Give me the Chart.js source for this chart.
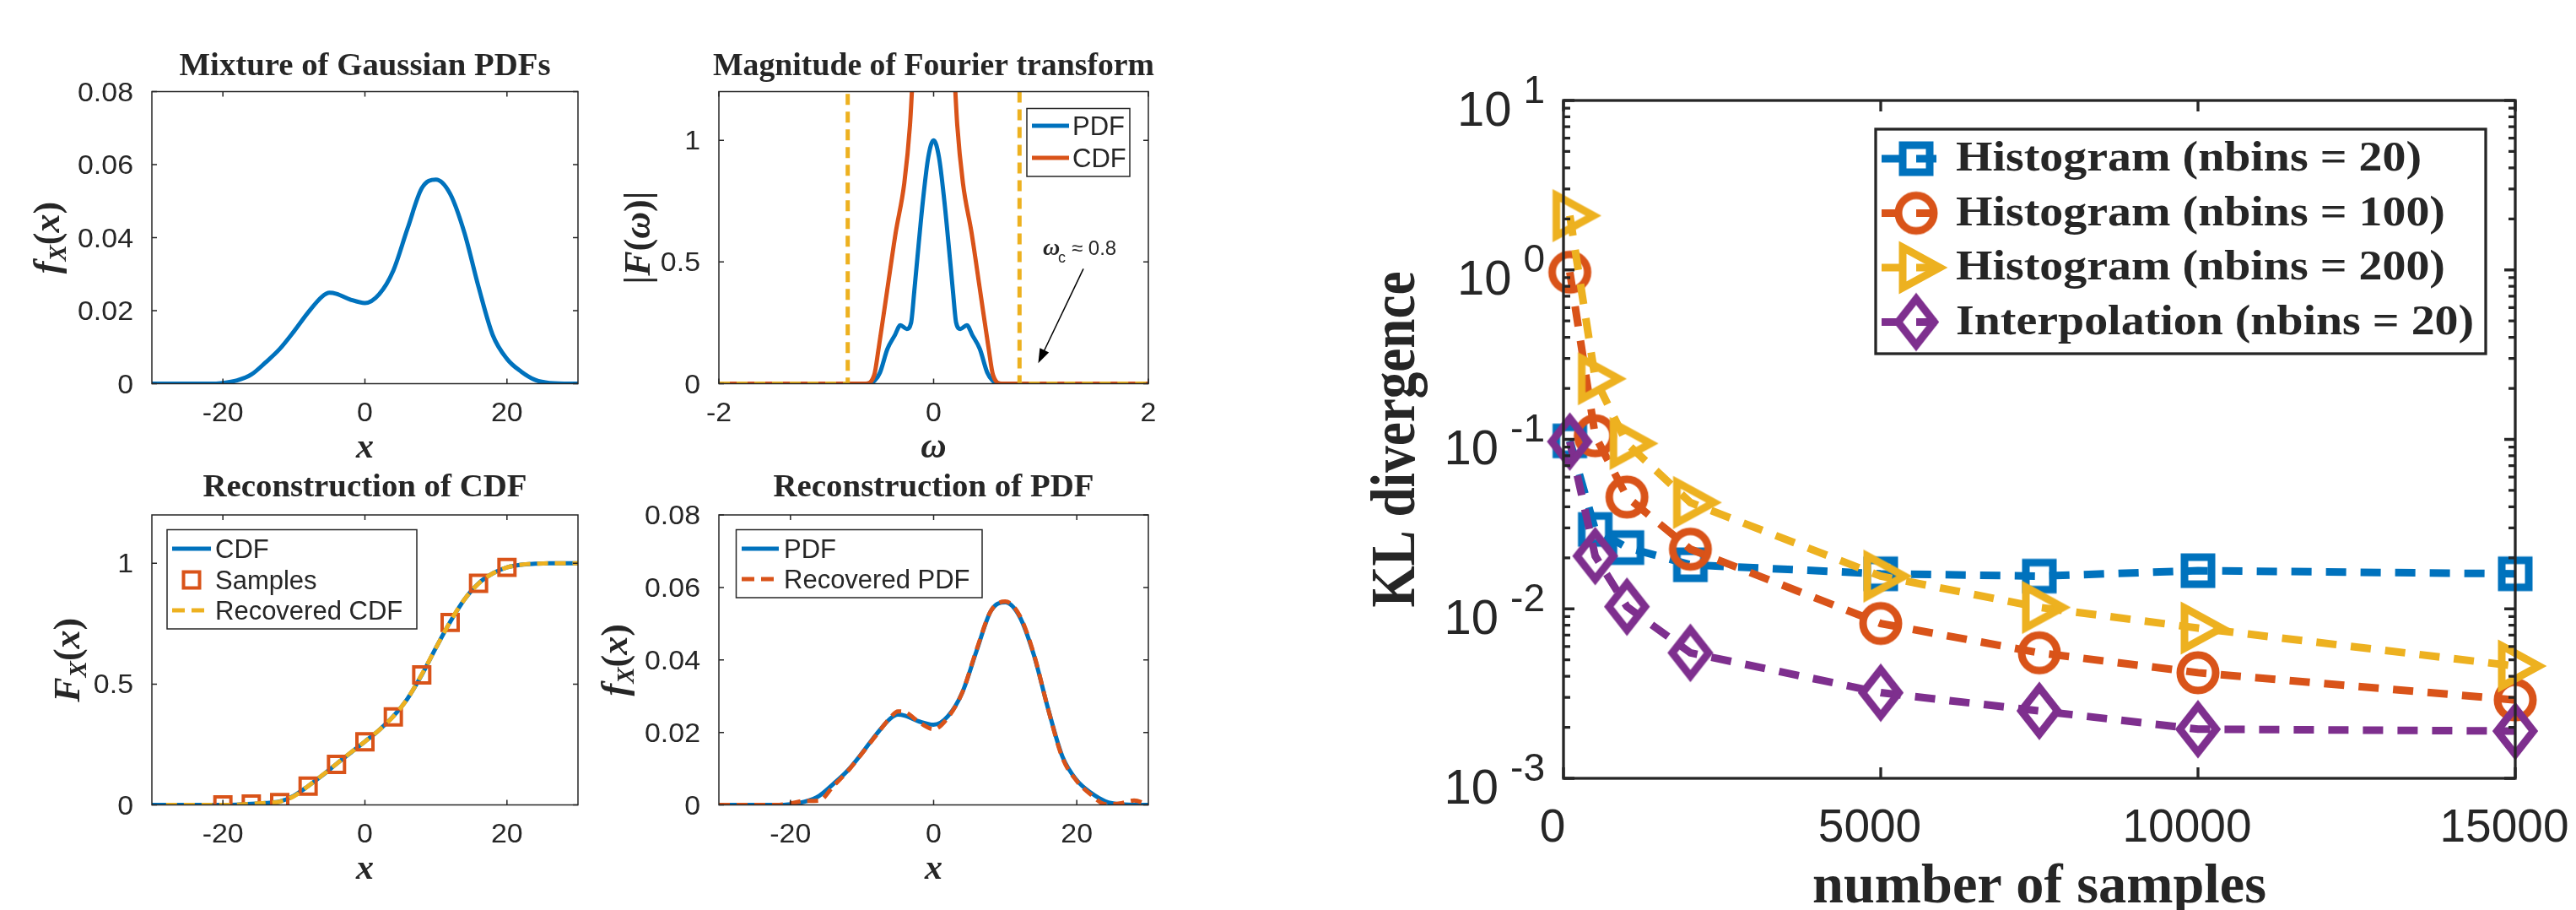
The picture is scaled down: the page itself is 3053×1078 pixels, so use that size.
<!DOCTYPE html>
<html>
<head>
<meta charset="utf-8">
<title>Gaussian mixture reconstruction and KL divergence</title>
<script src="https://cdn.jsdelivr.net/npm/chart.js@4.4.1/dist/chart.umd.min.js"></script>
<style>
  html, body { margin: 0; padding: 0; background: #fff; }
  #page { position: relative; width: 3053px; height: 1078px; overflow: hidden; background: #fff; }
  #page canvas { position: absolute; left: 0; top: 0; }
</style>
</head>
<body>
<div id="page">
  <canvas id="mixture" width="3053" height="1078"></canvas>
  <canvas id="fourier" width="3053" height="1078"></canvas>
  <canvas id="cdfRec" width="3053" height="1078"></canvas>
  <canvas id="pdfRec" width="3053" height="1078"></canvas>
  <canvas id="kl" width="3053" height="1078"></canvas>
</div>
<script>
// values
const pdfX = [-30, -26, -22, -20, -18, -16, -14, -12, -10, -8, -6, -5, -4, -2, 0, 2, 4, 6, 8, 10, 12, 14, 16, 18, 20, 22, 24, 26, 30];
const pdfY = [0, 0, 0, 0.0002, 0.0009, 0.0025, 0.0058, 0.0095, 0.0143, 0.0195, 0.0239, 0.0249, 0.0246, 0.023, 0.0221,
  0.0245, 0.031, 0.0425, 0.0535, 0.0559, 0.052, 0.0414, 0.0265, 0.0133, 0.0068, 0.0033, 0.001, 0.0002, 0];

const recPdfX = [-30, -26, -22, -20, -18, -16, -14, -12, -10, -8, -6, -5, -4, -2, 0, 2, 4, 6, 8, 10, 12, 14, 16, 18, 20, 22, 24, 26, 28, 30];
const recPdfY = [0, 0, 0, 0.0004, 0.0011, 0.0012, 0.0052, 0.0093, 0.0142, 0.0193, 0.0242, 0.0258, 0.0256, 0.0228, 0.0209,
  0.0241, 0.031, 0.0428, 0.0535, 0.0561, 0.0523, 0.0416, 0.0264, 0.013, 0.0066, 0.0028, 0.0002, 0.0004, 0.0012, 0];

const cdfX = [-30, -28, -26, -24, -22, -20, -18, -16, -14, -12, -10, -8, -6, -4, -2, 0, 2, 4, 6, 8, 10, 12, 14, 16, 18, 20, 22, 24, 26, 28, 30];
const cdfY = [0, 0, 0, 0, 0, 0, 0.001, 0.004, 0.008, 0.014, 0.038, 0.078, 0.122, 0.17, 0.216, 0.262,
  0.31, 0.367, 0.44, 0.538, 0.65, 0.757, 0.85, 0.917, 0.958, 0.983, 0.994, 0.998, 1, 1, 1];

const recCdfX = [-28, -26, -24, -22, -20, -18, -16, -14, -12, -10, -8, -6, -4, -2, 0, 2, 4, 6, 8, 10, 12, 14, 16, 18, 20, 22, 24, 26, 28, 30];
const recCdfY = [0, 0, 0, 0, 0, 0.001, 0.004, 0.008, 0.013, 0.036, 0.078, 0.123, 0.17, 0.217, 0.262,
  0.31, 0.366, 0.44, 0.54, 0.65, 0.758, 0.85, 0.916, 0.958, 0.983, 0.994, 0.998, 1, 1, 1];

const sampleX = [-20, -16, -12, -8, -4, 0, 4, 8, 12, 16, 20];
const sampleY = [0, 0.004, 0.01, 0.078, 0.168, 0.261, 0.364, 0.538, 0.755, 0.917, 0.983];

const omegaPdf = [-2, -0.62, -0.55, -0.5, -0.43, -0.36, -0.31, -0.25, -0.21, -0.18, -0.14, -0.1, -0.05, 0,
  0.05, 0.1, 0.14, 0.18, 0.21, 0.25, 0.31, 0.36, 0.43, 0.5, 0.55, 0.62, 2];
const ftPdf = [0, 0, 0.012, 0.045, 0.143, 0.2, 0.24, 0.225, 0.25, 0.38, 0.57, 0.75, 0.93, 1,
  0.93, 0.75, 0.57, 0.38, 0.25, 0.225, 0.24, 0.2, 0.143, 0.045, 0.012, 0, 0];

const omegaCdf = [-2, -0.633, -0.553, -0.513, -0.433, -0.353, -0.273, -0.22, -0.2, -0.17, 0,
  0.17, 0.2, 0.22, 0.273, 0.353, 0.433, 0.513, 0.553, 0.633, 2];
const ftCdf = [0, 0, 0.036, 0.143, 0.382, 0.621, 0.824, 1.063, 1.22, 1.5, null,
  1.5, 1.22, 1.063, 0.824, 0.621, 0.382, 0.143, 0.036, 0, 0];

const cutoffX = [-2, -0.8, -0.8, 0, 0.8, 0.8, 2];
const cutoffY = [0, 0, 1.2, null, 1.2, 0, 0];

const sampleCounts = [100, 500, 1000, 2000, 5000, 7500, 10000, 15000];
const hist20 = [0.098, 0.0294, 0.023, 0.0182, 0.0161, 0.0156, 0.0168, 0.0161];
const hist100 = [0.97, 0.105, 0.0457, 0.0225, 0.0082, 0.0055, 0.0042, 0.0029];
const hist200 = [2.09, 0.228, 0.0946, 0.0424, 0.0156, 0.0102, 0.0077, 0.0046];
const interp20 = [0.097, 0.0205, 0.0103, 0.0055, 0.0032, 0.0025, 0.00195, 0.0019];
const klLabels = ['Histogram (nbins = 20)', 'Histogram (nbins = 100)', 'Histogram (nbins = 200)', 'Interpolation (nbins = 20)'];

const pdfTicksX = [-20, 0, 20];
const pdfTicksY = [0, 0.02, 0.04, 0.06, 0.08];
const omegaTicks = [-2, 0, 2];
const unitTicks = [0, 0.5, 1];
const sampleTicks = [0, 5000, 10000, 15000];
const klExponents = [1, 0, -1, -2, -3];

const BLUE = '#0072BD', ORANGE = '#D95319', YELLOW = '#EDB120', PURPLE = '#7E2F8E', INK = '#262626';
const SANS = '"Liberation Sans", Arial, Helvetica, sans-serif';
const SERIF = '"Liberation Serif", "Times New Roman", serif';
const W = 3053, H = 1078;

function pts(xs, ys) {
  return xs.map((x, i) => ({ x, y: ys[i] }));
}

function say(ctx, s, x, y, font, o = {}) {
  ctx.save();
  ctx.font = font;
  ctx.fillStyle = INK;
  ctx.textAlign = o.align || 'center';
  ctx.textBaseline = 'alphabetic';
  ctx.translate(x, y);
  if (o.rot) ctx.rotate(o.rot);
  if (o.width) ctx.scale(o.width / ctx.measureText(s).width, 1);
  else if (o.sx) ctx.scale(o.sx, 1);
  ctx.fillText(s, 0, 0);
  ctx.restore();
}

// little math strings: [text, font, baseline shift]
function math(ctx, parts, x, y, rot) {
  ctx.save();
  ctx.fillStyle = INK;
  ctx.textAlign = 'left';
  ctx.textBaseline = 'alphabetic';
  ctx.translate(x, y);
  if (rot) ctx.rotate(rot);
  let w = 0;
  for (const p of parts) { ctx.font = p[1]; w += ctx.measureText(p[0]).width; }
  let cx = -w / 2;
  for (const p of parts) {
    ctx.font = p[1];
    ctx.fillText(p[0], cx, p[2] || 0);
    cx += ctx.measureText(p[0]).width;
  }
  ctx.restore();
}

const MI = `italic bold 44px ${SERIF}`, MR = `bold 44px ${SERIF}`, MS = `italic bold 29px ${SERIF}`;
const fxLabel = [['f', MI], ['X', MS, 8], ['(', MR], ['x', MI], [')', MR]];
const FxLabel = [['F', MI], ['X', MS, 8], ['(', MR], ['x', MI], [')', MR]];
const fwLabel = [['|', MR], ['F', MI], ['(', MR], ['ω', MI], [')', MR], ['|', MR]];

function sampleLine(ctx, x1, x2, y, color, width, dash) {
  ctx.save();
  ctx.strokeStyle = color;
  ctx.lineWidth = width;
  ctx.setLineDash(dash || []);
  ctx.beginPath();
  ctx.moveTo(x1, y);
  ctx.lineTo(x2, y);
  ctx.stroke();
  ctx.restore();
}

function legendBox(ctx, l, t, r, b, lw) {
  ctx.save();
  ctx.fillStyle = '#fff';
  ctx.fillRect(l, t, r - l, b - t);
  ctx.strokeStyle = INK;
  ctx.lineWidth = lw;
  ctx.strokeRect(l, t, r - l, b - t);
  ctx.restore();
}

function frame(cfg) {
  return {
    id: 'frame',
    afterDatasetsDraw(chart) {
      const { ctx, chartArea: a } = chart;
      const xs = chart.scales.x, ys = chart.scales.y;
      ctx.save();
      ctx.strokeStyle = INK;
      ctx.lineWidth = cfg.lw;
      ctx.beginPath();
      for (const v of cfg.xTicks) {
        const p = xs.getPixelForValue(v);
        ctx.moveTo(p, a.bottom); ctx.lineTo(p, a.bottom - cfg.len);
        ctx.moveTo(p, a.top); ctx.lineTo(p, a.top + cfg.len);
      }
      const yTick = (v, len) => {
        const p = ys.getPixelForValue(v);
        ctx.moveTo(a.left, p); ctx.lineTo(a.left + len, p);
        ctx.moveTo(a.right, p); ctx.lineTo(a.right - len, p);
      };
      cfg.yTicks.forEach(v => yTick(v, cfg.len));
      (cfg.yMinor || []).forEach(v => yTick(v, cfg.minorLen));
      ctx.stroke();
      ctx.strokeRect(a.left, a.top, a.right - a.left, a.bottom - a.top);
      ctx.restore();
      if (cfg.tickFont) {
        const tk = { sx: 1.06 };
        cfg.xTicks.forEach(v => say(ctx, String(v), xs.getPixelForValue(v), a.bottom + 44, cfg.tickFont, tk));
        cfg.yTicks.forEach(v => say(ctx, String(v), a.left - 22, ys.getPixelForValue(v) + 11, cfg.tickFont, { align: 'right', sx: 1.06 }));
      }
      cfg.draw(ctx, a, xs, ys);
    }
  };
}

function curve(xs, ys, color, extra) {
  return Object.assign({
    data: pts(xs, ys), borderColor: color, borderWidth: 5, pointRadius: 0,
    fill: false, cubicInterpolationMode: 'monotone', spanGaps: false
  }, extra);
}

function panel(id, datasets, xr, yr, area, deco, yType) {
  return new Chart(document.getElementById(id), {
    type: 'line',
    data: { datasets },
    options: {
      responsive: false, animation: false, devicePixelRatio: 1, events: [],
      layout: { padding: { left: area[0], top: area[1], right: W - area[2], bottom: H - area[3] } },
      scales: {
        x: { type: 'linear', display: false, min: xr[0], max: xr[1] },
        y: { type: yType || 'linear', display: false, min: yr[0], max: yr[1] }
      },
      plugins: { legend: { display: false }, tooltip: { enabled: false } }
    },
    plugins: [deco]
  });
}

const smallTicks = `32px ${SANS}`;
const titleFont = `bold 38px ${SERIF}`;
const axisVar = `italic bold 42px ${SERIF}`;

// top left: mixture pdf
panel('mixture', [curve(pdfX, pdfY, BLUE)], [-30, 30], [0, 0.08], [180, 108.5, 685, 454.5],
  frame({
    lw: 1.5, len: 6, xTicks: pdfTicksX, yTicks: pdfTicksY, tickFont: smallTicks,
    draw(ctx, a) {
      const cx = (a.left + a.right) / 2;
      say(ctx, 'Mixture of Gaussian PDFs', cx, a.top - 19.5, titleFont, { width: 440 });
      math(ctx, [['x', axisVar]], cx, a.bottom + 87.5);
      math(ctx, fxLabel, 70, (a.top + a.bottom) / 2, -Math.PI / 2);
    }
  }));

// top right: fourier magnitude
panel('fourier', [
  curve(omegaPdf, ftPdf, BLUE, { order: 2 }),
  curve(omegaCdf, ftCdf, ORANGE, { order: 1 }),
  curve(cutoffX, cutoffY, YELLOW, { order: 0, borderDash: [13, 8], cubicInterpolationMode: 'default', tension: 0 })
], [-2, 2], [0, 1.2], [852, 108.5, 1361, 454.5],
  frame({
    lw: 1.5, len: 6, xTicks: omegaTicks, yTicks: unitTicks, tickFont: smallTicks,
    draw(ctx, a, xs, ys) {
      const cx = (a.left + a.right) / 2;
      say(ctx, 'Magnitude of Fourier transform', cx, a.top - 19.5, titleFont, { width: 523 });
      math(ctx, [['ω', axisVar]], cx, a.bottom + 87.5);
      math(ctx, fwLabel, 770, (a.top + a.bottom) / 2, -Math.PI / 2);

      legendBox(ctx, 1217, 128.5, 1339, 209, 1.5);
      sampleLine(ctx, 1223, 1267, 149, BLUE, 5);
      say(ctx, 'PDF', 1271, 160, `31px ${SANS}`, { align: 'left' });
      sampleLine(ctx, 1223, 1267, 187, ORANGE, 5);
      say(ctx, 'CDF', 1271, 198, `31px ${SANS}`, { align: 'left' });

      // cut-off annotation
      const x0 = xs.getPixelForValue(1.395), y0 = ys.getPixelForValue(0.472);
      const x1 = xs.getPixelForValue(0.974), y1 = ys.getPixelForValue(0.084);
      const ang = Math.atan2(y1 - y0, x1 - x0);
      ctx.save();
      ctx.strokeStyle = '#000';
      ctx.fillStyle = '#000';
      ctx.lineWidth = 1.5;
      ctx.beginPath();
      ctx.moveTo(x0, y0);
      ctx.lineTo(x1 - Math.cos(ang) * 10, y1 - Math.sin(ang) * 10);
      ctx.stroke();
      ctx.beginPath();
      ctx.moveTo(x1, y1);
      ctx.lineTo(x1 - Math.cos(ang) * 17 + Math.sin(ang) * 6, y1 - Math.sin(ang) * 17 - Math.cos(ang) * 6);
      ctx.lineTo(x1 - Math.cos(ang) * 17 - Math.sin(ang) * 6, y1 - Math.sin(ang) * 17 + Math.cos(ang) * 6);
      ctx.closePath();
      ctx.fill();
      ctx.restore();
      say(ctx, 'ω', 1236, 302, `italic bold 28px ${SERIF}`, { align: 'left' });
      say(ctx, 'c', 1254, 311, `18px ${SANS}`, { align: 'left' });
      say(ctx, '≈ 0.8', 1270, 302, `24px ${SANS}`, { align: 'left' });
    }
  }));

// bottom left: cdf reconstruction
panel('cdfRec', [
  curve(cdfX, cdfY, BLUE, { order: 2 }),
  {
    data: pts(sampleX, sampleY), showLine: false, borderColor: ORANGE, order: 1,
    pointStyle: 'rect', pointRadius: 13.4, pointBorderWidth: 4,
    pointBorderColor: ORANGE, pointBackgroundColor: 'rgba(0,0,0,0)'
  },
  curve(recCdfX, recCdfY, YELLOW, { order: 0, borderDash: [13, 8] })
], [-30, 30], [0, 1.2], [180, 610, 685, 953.5],
  frame({
    lw: 1.5, len: 6, xTicks: pdfTicksX, yTicks: unitTicks, tickFont: smallTicks,
    draw(ctx, a) {
      const cx = (a.left + a.right) / 2;
      say(ctx, 'Reconstruction of CDF', cx, a.top - 22, titleFont, { width: 384 });
      math(ctx, [['x', axisVar]], cx, a.bottom + 87.5);
      math(ctx, FxLabel, 94, (a.top + a.bottom) / 2, -Math.PI / 2);

      legendBox(ctx, 198, 627.5, 494, 745, 1.5);
      sampleLine(ctx, 204, 250, 650, BLUE, 5);
      say(ctx, 'CDF', 255, 661, `31px ${SANS}`, { align: 'left' });
      ctx.save();
      ctx.strokeStyle = ORANGE;
      ctx.lineWidth = 4;
      ctx.strokeRect(227 - 9.5, 687 - 9.5, 19, 19);
      ctx.restore();
      say(ctx, 'Samples', 255, 698, `31px ${SANS}`, { align: 'left' });
      sampleLine(ctx, 204, 250, 723, YELLOW, 5, [15, 8]);
      say(ctx, 'Recovered CDF', 255, 734, `31px ${SANS}`, { align: 'left' });
    }
  }));

// bottom right: pdf reconstruction
panel('pdfRec', [
  curve(pdfX, pdfY, BLUE, { order: 1 }),
  curve(recPdfX, recPdfY, ORANGE, { order: 0, borderDash: [13, 8] })
], [-30, 30], [0, 0.08], [852, 610, 1361, 953.5],
  frame({
    lw: 1.5, len: 6, xTicks: pdfTicksX, yTicks: pdfTicksY, tickFont: smallTicks,
    draw(ctx, a) {
      const cx = (a.left + a.right) / 2;
      say(ctx, 'Reconstruction of PDF', cx, a.top - 22, titleFont, { width: 380 });
      math(ctx, [['x', axisVar]], cx, a.bottom + 87.5);
      math(ctx, fxLabel, 743, (a.top + a.bottom) / 2, -Math.PI / 2);

      legendBox(ctx, 872.5, 627.5, 1164, 708, 1.5);
      sampleLine(ctx, 879, 923, 650, BLUE, 5);
      say(ctx, 'PDF', 929, 661, `31px ${SANS}`, { align: 'left' });
      sampleLine(ctx, 879, 923, 686, ORANGE, 5, [15, 8]);
      say(ctx, 'Recovered PDF', 929, 697, `31px ${SANS}`, { align: 'left' });
    }
  }));

// right: KL divergence against number of samples
function marker(shape, color) {
  const c = document.createElement('canvas');
  c.width = 100; c.height = 100;
  const g = c.getContext('2d');
  g.strokeStyle = color;
  g.lineWidth = 9;
  g.lineJoin = 'miter';
  g.translate(50, 50);
  g.beginPath();
  if (shape === 'square') g.rect(-16, -16, 32, 32);
  else if (shape === 'circle') g.arc(0, 0, 21, 0, Math.PI * 2);
  else if (shape === 'right') { g.moveTo(-16, -24); g.lineTo(28, 0); g.lineTo(-16, 24); g.closePath(); }
  else { g.moveTo(0, -27.5); g.lineTo(21.5, 0); g.lineTo(0, 27.5); g.lineTo(-21.5, 0); g.closePath(); }
  g.stroke();
  return c;
}

const klValues = [hist20, hist100, hist200, interp20];
const klColors = [BLUE, ORANGE, YELLOW, PURPLE];
const klMarks = [marker('square', BLUE), marker('circle', ORANGE), marker('right', YELLOW), marker('diamond', PURPLE)];

const klMinor = [];
for (let k = -3; k < 1; k++) for (let m = 2; m < 10; m++) klMinor.push(m * Math.pow(10, k));

panel('kl', klValues.map((vals, i) => ({
  data: pts(sampleCounts, vals), borderColor: klColors[i], borderWidth: 9, borderDash: [24, 17],
  pointStyle: klMarks[i], pointRadius: 22, clip: false, order: 3 - i, tension: 0, fill: false
})), [0, 15000], [0.001, 10], [1853, 119, 2981, 922],
  frame({
    lw: 3.3, len: 13, minorLen: 8, xTicks: sampleTicks,
    yTicks: klExponents.map(e => Math.pow(10, e)), yMinor: klMinor,
    draw(ctx, a, xs, ys) {
      for (const e of klExponents) {
        const p = ys.getPixelForValue(Math.pow(10, e));
        ctx.font = `46px ${SANS}`;
        const supLeft = a.left - 22 - ctx.measureText(String(e)).width;
        say(ctx, String(e), supLeft, p + 2.5, `46px ${SANS}`, { align: 'left' });
        say(ctx, '10', supLeft - 14, p + 29.5, `58px ${SANS}`, { align: 'right' });
      }
      sampleTicks.forEach(v => say(ctx, String(v), xs.getPixelForValue(v) - 13, a.bottom + 75, `55px ${SANS}`));
      say(ctx, 'number of samples', (a.left + a.right) / 2, 1069, `bold 65px ${SERIF}`, { width: 538 });
      say(ctx, 'KL divergence', 1676, (a.top + a.bottom) / 2, `bold 74px ${SERIF}`, { width: 398, rot: -Math.PI / 2 });

      legendBox(ctx, 2223, 153, 2946, 419, 3.3);
      const lf = `bold 51px ${SERIF}`;
      ctx.font = lf;
      const sx = 552 / ctx.measureText(klLabels[0]).width;
      klLabels.forEach((label, i) => {
        const cy = 188 + i * 64.5;
        sampleLine(ctx, 2230, 2312, cy, klColors[i], 9, [24, 17]);
        ctx.drawImage(klMarks[i], 2271 - 50, cy - 50);
        say(ctx, label, 2318, cy + 14, lf, { align: 'left', sx });
      });
    }
  }), 'logarithmic');
</script>
</body>
</html>
